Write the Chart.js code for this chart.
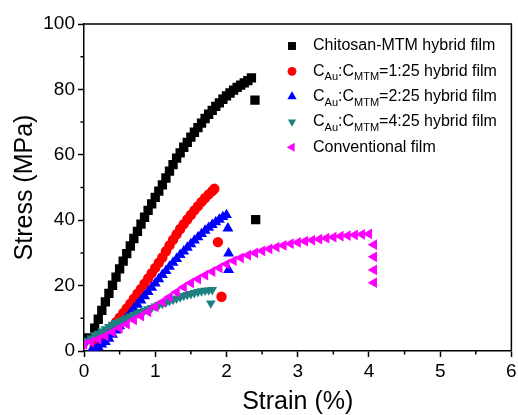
<!DOCTYPE html>
<html>
<head>
<meta charset="utf-8">
<script src="https://cdn.jsdelivr.net/npm/chart.js@4.4.1/dist/chart.umd.min.js"></script>
<style>
  html, body { margin: 0; padding: 0; background: #fff; }
</style>
</head>
<body>
<canvas id="myChart" width="518" height="415"></canvas>
<script>
// legend labels, _{..} is a subscript
const seriesLabels = [
    'Chitosan-MTM hybrid film',
    'C_{Au}:C_{MTM}=1:25 hybrid film',
    'C_{Au}:C_{MTM}=2:25 hybrid film',
    'C_{Au}:C_{MTM}=4:25 hybrid film',
    'Conventional film'
];

// Chitosan-MTM hybrid film
const chitosanStrain = [0.06, 0.15, 0.20, 0.25, 0.30, 0.35, 0.40, 0.45, 0.50, 0.55, 0.60, 0.65, 0.70, 0.75, 0.80,
    0.85, 0.90, 0.95, 1.00, 1.05, 1.10, 1.15, 1.20, 1.25, 1.30, 1.35, 1.40, 1.45, 1.50, 1.55, 1.60, 1.65, 1.70,
    1.75, 1.80, 1.85, 1.90, 1.95, 2.00, 2.05, 2.10, 2.15, 2.20, 2.25, 2.30, 2.35, 2.40, 2.41];
const chitosanStress = [4.0, 7.0, 9.7, 12.4, 15.0, 17.6, 20.1, 22.6, 25.1, 27.5, 29.8, 32.1, 34.4, 36.6, 38.8,
    40.9, 43.0, 45.0, 47.0, 48.9, 50.8, 52.9, 55.0, 57.0, 59.0, 60.6, 62.3, 63.8, 65.4, 66.9, 68.3, 69.7, 71.1,
    72.4, 73.6, 74.8, 75.9, 77.0, 78.0, 78.9, 79.8, 80.6, 81.3, 82.0, 82.7, 83.5, 76.7, 40.2];

// CAu:CMTM = 1:25
const au1Strain = [0.15, 0.20, 0.25, 0.30, 0.35, 0.40, 0.45, 0.50, 0.55, 0.60, 0.65, 0.70, 0.75, 0.80, 0.85,
    0.90, 0.95, 1.00, 1.05, 1.10, 1.15, 1.20, 1.25, 1.30, 1.35, 1.40, 1.45, 1.50, 1.55, 1.60, 1.65, 1.70, 1.75,
    1.80, 1.83, 1.88, 1.93];
const au1Stress = [1.5, 2.5, 3.5, 4.7, 6.0, 7.4, 8.8, 10.2, 11.6, 13.0, 14.5, 16.0, 17.5, 19.0, 20.6,
    22.2, 23.8, 25.4, 27.0, 28.6, 30.5, 32.3, 34.0, 35.7, 37.3, 38.8, 40.2, 41.6, 43.0, 44.3, 45.6, 46.8, 47.9,
    48.9, 49.6, 33.3, 16.6];

// CAu:CMTM = 2:25
const au2Strain = [0.10, 0.15, 0.20, 0.25, 0.30, 0.35, 0.40, 0.45, 0.50, 0.55, 0.60, 0.65, 0.70, 0.75, 0.80,
    0.85, 0.90, 0.95, 1.00, 1.05, 1.10, 1.15, 1.20, 1.25, 1.30, 1.35, 1.40, 1.45, 1.50, 1.55, 1.60, 1.65, 1.70,
    1.75, 1.80, 1.85, 1.90, 1.95, 2.00, 2.02, 2.03, 2.03];
const au2Stress = [0.0, 0.5, 1.2, 2.0, 2.8, 3.8, 5.0, 6.3, 7.6, 8.9, 10.2, 11.5, 12.9, 14.2, 15.5,
    16.8, 18.1, 19.4, 20.7, 22.0, 23.3, 24.5, 25.8, 27.0, 28.2, 29.4, 30.5, 31.6, 32.7, 33.8, 34.8, 35.8, 36.8,
    37.7, 38.6, 39.4, 40.2, 41.0, 41.6, 37.5, 29.9, 24.8];

// CAu:CMTM = 4:25
const au4Strain = [0.00, 0.05, 0.10, 0.15, 0.20, 0.25, 0.30, 0.35, 0.40, 0.45, 0.50, 0.55, 0.60, 0.65, 0.70,
    0.75, 0.80, 0.85, 0.90, 0.95, 1.00, 1.05, 1.10, 1.15, 1.20, 1.25, 1.30, 1.35, 1.40, 1.45, 1.50, 1.55, 1.60,
    1.65, 1.70, 1.75, 1.80, 1.78];
const au4Stress = [2.5, 3.2, 3.9, 4.6, 5.3, 6.0, 6.7, 7.4, 8.1, 8.6, 9.1, 9.6, 10.1, 10.6, 11.1,
    11.6, 12.0, 12.4, 12.8, 13.2, 13.7, 14.1, 14.5, 14.9, 15.3, 15.7, 16.1, 16.5, 16.9, 17.2, 17.5, 17.8, 18.1,
    18.3, 18.5, 18.6, 18.7, 14.6];

// Conventional film
const convStrain = [0.0, 0.1, 0.2, 0.3, 0.4, 0.5, 0.6, 0.7, 0.8, 0.9, 1.0, 1.1, 1.2, 1.3, 1.4, 1.5, 1.6, 1.7,
    1.8, 1.9, 2.0, 2.1, 2.2, 2.3, 2.4, 2.5, 2.6, 2.7, 2.8, 2.9, 3.0, 3.1, 3.2, 3.3, 3.4, 3.5, 3.6, 3.7, 3.8, 3.9,
    4.0, 4.07, 4.07, 4.07, 4.07];
const convStress = [2.0, 2.8, 3.6, 4.6, 5.8, 7.0, 8.2, 9.5, 10.7, 12.0, 13.5, 15.0, 16.5, 18.0, 19.5, 20.8, 22.0, 23.2,
    24.3, 25.4, 26.6, 27.6, 28.5, 29.3, 30.0, 30.6, 31.2, 31.8, 32.3, 32.8, 33.2, 33.6, 33.9, 34.2, 34.5, 34.8, 35.1, 35.3, 35.5, 35.7,
    35.8, 32.5, 28.8, 24.8, 20.9];

// ticks
const xMinorTicks = [0.5, 1.5, 2.5, 3.5, 4.5, 5.5];
const yMinorTicks = [10, 30, 50, 70, 90];

const FONT = "'Liberation Sans', Arial, Helvetica, sans-serif";

function toPoints(xs, ys) {
    return xs.map((x, i) => ({ x: x, y: ys[i] }));
}

const styles = [
    { color: '#000000', pointStyle: 'rect', rotation: 0, radius: 6.6, order: 5 },
    { color: '#ff0000', pointStyle: 'circle', rotation: 0, radius: 5.2, order: 4 },
    { color: '#0000ff', pointStyle: 'triangle', rotation: 0, radius: 6.3, order: 3 },
    { color: '#1e8080', pointStyle: 'triangle', rotation: 180, radius: 5.6, order: 2 },
    { color: '#ff00ff', pointStyle: 'triangle', rotation: 270, radius: 6.2, order: 1 }
];
const allPoints = [
    toPoints(chitosanStrain, chitosanStress),
    toPoints(au1Strain, au1Stress),
    toPoints(au2Strain, au2Stress),
    toPoints(au4Strain, au4Stress),
    toPoints(convStrain, convStress)
];

const datasets = allPoints.map((pts, i) => ({
    label: seriesLabels[i],
    data: pts,
    showLine: false,
    clip: 0,
    order: styles[i].order,
    pointStyle: styles[i].pointStyle,
    pointRotation: styles[i].rotation,
    pointRadius: styles[i].radius,
    pointHoverRadius: styles[i].radius,
    pointBackgroundColor: styles[i].color,
    pointBorderColor: styles[i].color,
    pointBorderWidth: 0
}));

// text with _{sub} parts
function drawRichText(ctx, text, x, y) {
    const parts = text.split(/(_\{[^}]*\})/);
    parts.forEach(p => {
        if (!p) return;
        if (p.startsWith('_{')) {
            const s = p.slice(2, -1);
            ctx.font = '11px ' + FONT;
            ctx.fillText(s, x, y + 6);
            x += ctx.measureText(s).width;
        } else {
            ctx.font = '16px ' + FONT;
            ctx.fillText(p, x, y);
            x += ctx.measureText(p).width;
        }
    });
}

const framePlugin = {
    id: 'frame',
    afterDraw(chart) {
        const { ctx, chartArea: a, scales } = chart;
        ctx.save();
        ctx.strokeStyle = '#000';
        ctx.lineWidth = 1.5;
        ctx.beginPath();
        ctx.moveTo(a.left, a.top);
        ctx.lineTo(a.right, a.top);
        ctx.lineTo(a.right, a.bottom);
        yMinorTicks.forEach(v => {
            const p = scales.y.getPixelForValue(v);
            ctx.moveTo(a.left - 3.5, p);
            ctx.lineTo(a.left, p);
        });
        xMinorTicks.forEach(v => {
            const p = scales.x.getPixelForValue(v);
            ctx.moveTo(p, a.bottom);
            ctx.lineTo(p, a.bottom + 3.5);
        });
        ctx.stroke();

        // legend
        ctx.textBaseline = 'middle';
        ctx.textAlign = 'left';
        seriesLabels.forEach((label, i) => {
            const rowY = a.top + 22 + i * 25.3;
            const st = styles[i];
            ctx.fillStyle = st.color;
            ctx.strokeStyle = st.color;
            Chart.helpers.drawPoint(ctx, {
                pointStyle: st.pointStyle,
                rotation: st.rotation,
                radius: st.radius * 0.85,
                borderWidth: 0
            }, a.left + 208, rowY);
            ctx.fillStyle = '#000';
            drawRichText(ctx, label, a.left + 229, rowY);
        });
        ctx.restore();
    }
};

var ctx = document.getElementById('myChart').getContext('2d');
var chart = new Chart(ctx, {
    type: 'scatter',
    data: { datasets: datasets },
    options: {
        responsive: false,
        animation: false,
        devicePixelRatio: 1,
        layout: { padding: { top: 24, right: 3, left: 0, bottom: 0 } },
        plugins: {
            legend: { display: false },
            tooltip: { enabled: false }
        },
        scales: {
            x: {
                type: 'linear',
                min: 0,
                max: 6,
                afterFit(s) { s.height = 64; s.paddingLeft = 0; s.paddingRight = 0; },
                ticks: { stepSize: 1, color: '#000', font: { size: 19, family: FONT }, padding: 3, maxRotation: 0 },
                grid: { drawOnChartArea: false, drawTicks: true, tickLength: 6, tickColor: '#000', tickWidth: 1.5 },
                border: { display: true, color: '#000', width: 1.5 },
                title: {
                    display: true, text: 'Strain (%)', color: '#000',
                    font: { size: 25, family: FONT, lineHeight: 1 }, padding: 0
                }
            },
            y: {
                type: 'linear',
                min: 0,
                max: 100,
                afterFit(s) { s.width = 84; s.paddingTop = 0; s.paddingBottom = 0; },
                ticks: { stepSize: 20, color: '#000', font: { size: 19, family: FONT }, padding: 3 },
                grid: { drawOnChartArea: false, drawTicks: true, tickLength: 6, tickColor: '#000', tickWidth: 1.5 },
                border: { display: true, color: '#000', width: 1.5 },
                title: {
                    display: true, text: 'Stress (MPa)', color: '#000',
                    font: { size: 25, family: FONT, lineHeight: 1 }, padding: { top: 13, bottom: 0 }
                }
            }
        }
    },
    plugins: [framePlugin]
});
</script>
</body>
</html>
